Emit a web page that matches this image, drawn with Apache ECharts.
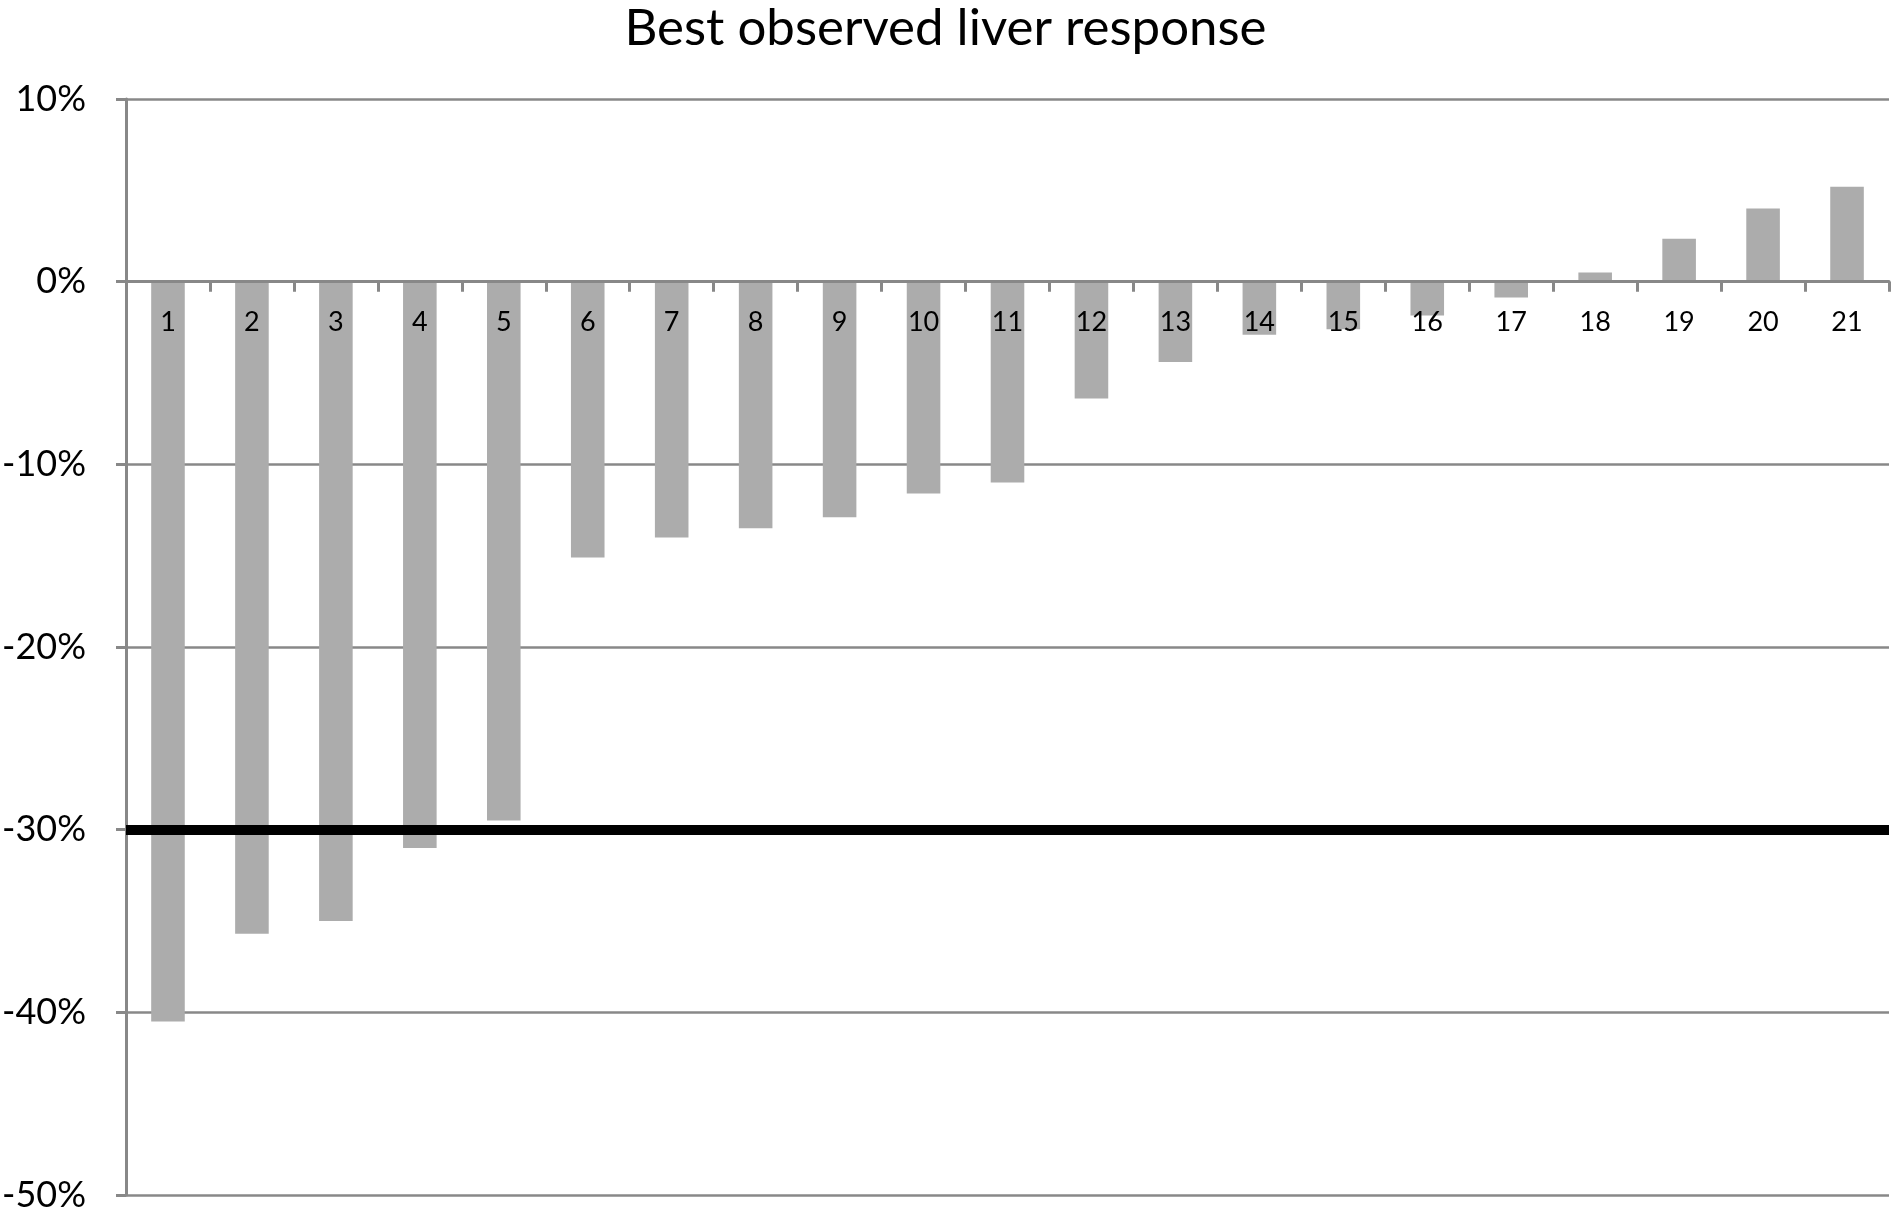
<!DOCTYPE html>
<html>
<head>
    <meta charset="utf-8">
    <title>Best observed liver response</title>
    <script src="https://cdn.jsdelivr.net/npm/echarts@6/dist/echarts.min.js"></script>
    <style>
        html, body { margin: 0; padding: 0; background: #fff; }
        #main { width: 1891px; height: 1208px; }
    </style>
</head>
<body>
    <div id="main"></div>
    <script type="text/javascript">
        // patients 1..21, best change in liver lesion size (%)
        var patients = ['1', '2', '3', '4', '5', '6', '7', '8', '9', '10', '11',
            '12', '13', '14', '15', '16', '17', '18', '19', '20', '21'];
        var response = [-40.5, -35.7, -35.0, -31.0, -29.5, -15.1, -14.0, -13.5, -12.9, -11.6, -11.0,
            -6.4, -4.4, -2.9, -2.6, -1.85, -0.87, 0.5, 2.35, 4.0, 5.2];
        var threshold = -30;
        var yMin = -50, yMax = 10, yStep = 10;

        var gridGrey = '#888888';
        var gridTop = 99, gridBottom = 13, chartH = 1208;
        var plotH = chartH - gridTop - gridBottom;
        // v6 leaves labels at the bottom with onZero, so lift the whole axis to the 0 line
        var zeroOffset = -plotH * (0 - yMin) / (yMax - yMin);

        var myChart = echarts.init(document.getElementById('main'));
        var option = {
            animation: false,
            title: {
                text: 'Best observed liver response',
                left: 'center',
                top: -2,
                textStyle: {
                    fontFamily: 'Lato',
                    fontWeight: 'normal',
                    fontSize: 51,
                    color: '#000'
                }
            },
            grid: {
                left: 126,
                right: 2,
                top: gridTop,
                bottom: gridBottom,
                outerBoundsMode: 'none'
            },
            xAxis: {
                type: 'category',
                data: patients,
                offset: zeroOffset,
                z: 10,
                axisLine: { onZero: false, lineStyle: { color: gridGrey, width: 3 } },
                axisTick: { show: true, length: 10, lineStyle: { color: gridGrey, width: 3 } },
                axisLabel: {
                    margin: 27,
                    fontFamily: 'Lato',
                    fontSize: 27,
                    color: '#000'
                }
            },
            yAxis: {
                type: 'value',
                min: yMin,
                max: yMax,
                interval: yStep,
                axisLine: { show: true, lineStyle: { color: gridGrey, width: 3 } },
                axisTick: { show: true, length: 10, lineStyle: { color: gridGrey, width: 3 } },
                splitLine: { lineStyle: { color: gridGrey, width: 2.5 } },
                axisLabel: {
                    formatter: '{value}%',
                    margin: 40,
                    fontFamily: 'Lato',
                    fontSize: 36,
                    color: '#000'
                }
            },
            series: [{
                name: 'Best observed liver response',
                type: 'bar',
                data: response,
                barWidth: '40%',
                itemStyle: { color: '#acacac' },
                markLine: {
                    silent: true,
                    symbol: 'none',
                    label: { show: false },
                    lineStyle: { color: '#000', width: 10, type: 'solid' },
                    data: [{ yAxis: threshold }]
                }
            }]
        };
        myChart.setOption(option);
    </script>
</body>
</html>
